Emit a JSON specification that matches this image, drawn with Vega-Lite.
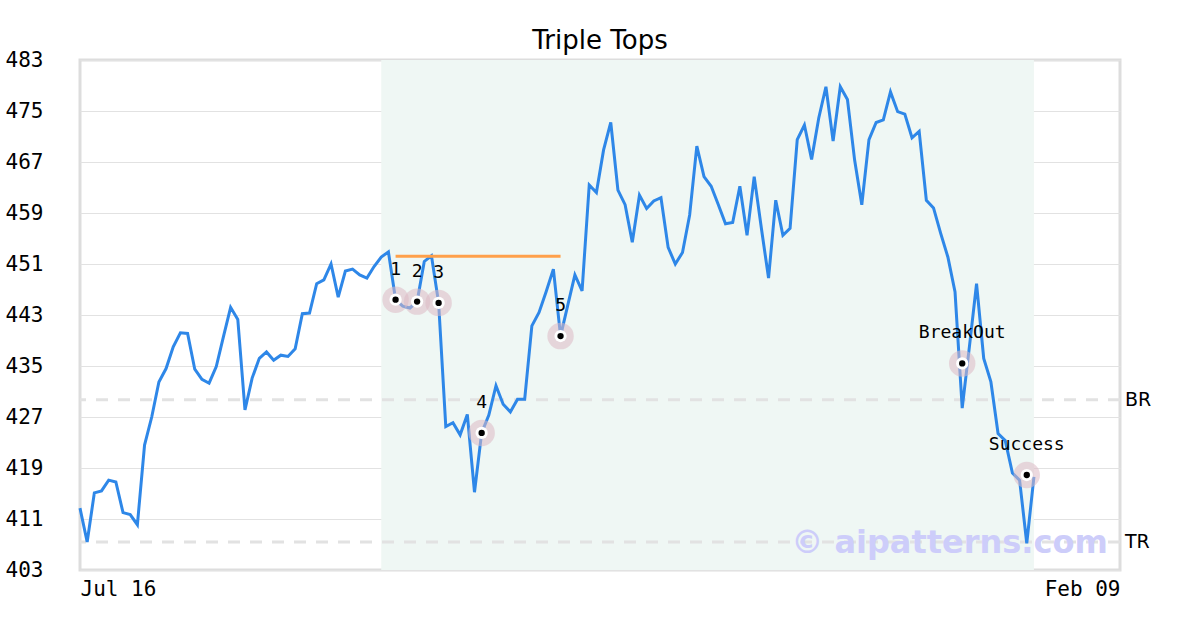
{
  "$schema": "https://vega.github.io/schema/vega-lite/v6.json",
  "width": 1040,
  "height": 510,
  "autosize": "none",
  "padding": {"left": 80, "top": 60, "right": 80, "bottom": 60},
  "background": "white",
  "title": {"text": "Triple Tops", "font": "DejaVu Sans", "fontSize": 26, "fontWeight": "normal", "color": "black", "frame": "group", "anchor": "middle", "baseline": "alphabetic", "offset": 12, "dy": 38},
  "config": {
    "view": {"stroke": "#dddddd", "strokeWidth": 3},
    "axis": {"domain": false, "ticks": false, "tickSize": 0, "labelFont": "DejaVu Sans Mono", "labelFontSize": 21, "labelColor": "black", "title": null},
    "axisY": {"grid": true, "gridColor": "#e2e2e2", "gridWidth": 1, "labelPadding": 37, "labelBaseline": "middle"},
    "axisX": {"grid": false, "labelPadding": 8, "labelFlush": true}
  },
  "datasets": {
    "price": [
      {"i":0,"v":412.7},{"i":1,"v":407.4},{"i":2,"v":415.1},{"i":3,"v":415.4},{"i":4,"v":417.1},{"i":5,"v":416.8},{"i":6,"v":412.0},{"i":7,"v":411.7},{"i":8,"v":410.1},{"i":9,"v":422.6},
      {"i":10,"v":427.0},{"i":11,"v":432.5},{"i":12,"v":434.6},{"i":13,"v":438.0},{"i":14,"v":440.2},{"i":15,"v":440.1},{"i":16,"v":434.5},{"i":17,"v":432.9},{"i":18,"v":432.3},{"i":19,"v":434.9},
      {"i":20,"v":439.6},{"i":21,"v":444.2},{"i":22,"v":442.3},{"i":23,"v":428.1},{"i":24,"v":433.1},{"i":25,"v":436.2},{"i":26,"v":437.2},{"i":27,"v":435.9},{"i":28,"v":436.7},{"i":29,"v":436.5},
      {"i":30,"v":437.7},{"i":31,"v":443.2},{"i":32,"v":443.3},{"i":33,"v":447.9},{"i":34,"v":448.5},{"i":35,"v":451.0},{"i":36,"v":445.8},{"i":37,"v":449.9},{"i":38,"v":450.2},{"i":39,"v":449.3},
      {"i":40,"v":448.8},{"i":41,"v":450.6},{"i":42,"v":452.1},{"i":43,"v":452.9},{"i":44,"v":445.4},{"i":45,"v":444.4},{"i":46,"v":444.1},{"i":47,"v":445.1},{"i":48,"v":451.4},{"i":49,"v":452.3},
      {"i":50,"v":444.9},{"i":51,"v":425.5},{"i":52,"v":426.1},{"i":53,"v":424.2},{"i":54,"v":427.4},{"i":55,"v":415.2},{"i":56,"v":424.5},{"i":57,"v":427.3},{"i":58,"v":431.9},{"i":59,"v":429.0},
      {"i":60,"v":427.8},{"i":61,"v":429.8},{"i":62,"v":429.8},{"i":63,"v":441.3},{"i":64,"v":443.4},{"i":65,"v":446.7},{"i":66,"v":450.2},{"i":67,"v":439.7},{"i":68,"v":444.5},{"i":69,"v":449.3},
      {"i":70,"v":446.8},{"i":71,"v":463.4},{"i":72,"v":462.2},{"i":73,"v":468.9},{"i":74,"v":473.2},{"i":75,"v":462.6},{"i":76,"v":460.3},{"i":77,"v":454.4},{"i":78,"v":461.8},{"i":79,"v":459.7},
      {"i":80,"v":460.9},{"i":81,"v":461.4},{"i":82,"v":453.6},{"i":83,"v":451.0},{"i":84,"v":452.8},{"i":85,"v":458.7},{"i":86,"v":469.5},{"i":87,"v":464.7},{"i":88,"v":463.2},{"i":89,"v":460.3},
      {"i":90,"v":457.3},{"i":91,"v":457.5},{"i":92,"v":463.2},{"i":93,"v":455.5},{"i":94,"v":464.7},{"i":95,"v":456.6},{"i":96,"v":448.8},{"i":97,"v":461.0},{"i":98,"v":455.5},{"i":99,"v":456.6},
      {"i":100,"v":470.5},{"i":101,"v":472.8},{"i":102,"v":467.4},{"i":103,"v":473.9},{"i":104,"v":478.8},{"i":105,"v":470.3},{"i":106,"v":478.8},{"i":107,"v":476.8},{"i":108,"v":467.3},{"i":109,"v":460.3},
      {"i":110,"v":470.5},{"i":111,"v":473.2},{"i":112,"v":473.6},{"i":113,"v":478.0},{"i":114,"v":474.9},{"i":115,"v":474.5},{"i":116,"v":470.8},{"i":117,"v":471.8},{"i":118,"v":461.0},{"i":119,"v":459.8},
      {"i":120,"v":455.8},{"i":121,"v":452.1},{"i":122,"v":446.6},{"i":123,"v":428.4},{"i":124,"v":438.0},{"i":125,"v":447.9},{"i":126,"v":436.2},{"i":127,"v":432.5},{"i":128,"v":424.4},{"i":129,"v":423.3},
      {"i":130,"v":418.2},{"i":131,"v":417.1},{"i":132,"v":407.2},{"i":133,"v":417.6}
    ],
    "points": [
      {"i":44,"v":445.4,"label":"1"},
      {"i":47,"v":445.1,"label":"2"},
      {"i":50,"v":444.9,"label":"3"},
      {"i":56,"v":424.5,"label":"4"},
      {"i":67,"v":439.7,"label":"5"},
      {"i":123,"v":435.4,"label":"BreakOut"},
      {"i":132,"v":417.9,"label":"Success"}
    ],
    "zone": [{"i":42,"i2":133}],
    "neck": [{"i":44,"i2":67,"v":452.2}],
    "levels": [{"name":"BR","v":429.7},{"name":"TR","v":407.4}],
    "mark": [{"text":"© aipatterns.com"}]
  },
  "layer": [
    {
      "data": {"name": "zone"},
      "mark": {"type": "rect", "color": "#eff7f4"},
      "encoding": {
        "x": {"field": "i", "type": "quantitative", "title": null, "scale": {"domain": [0, 145], "nice": false, "zero": false}, "axis": {"values": [0, 145], "labelExpr": "datum.value == 0 ? 'Jul 16' : 'Feb 09'"}},
        "x2": {"field": "i2"}
      }
    },
    {
      "data": {"name": "levels"},
      "mark": {"type": "rule", "color": "#e2e2e2", "strokeWidth": 3, "strokeDash": [12, 10]},
      "encoding": {
        "y": {"field": "v", "type": "quantitative", "title": null, "scale": {"domain": [403, 483], "nice": false, "zero": false}, "axis": {"values": [403, 411, 419, 427, 435, 443, 451, 459, 467, 475, 483]}}
      }
    },
    {
      "data": {"name": "mark"},
      "mark": {"type": "text", "font": "DejaVu Sans", "fontWeight": "bold", "fontSize": 32, "color": "#cdcdfa", "align": "right", "baseline": "middle"},
      "encoding": {
        "x": {"datum": 143.3, "type": "quantitative"},
        "y": {"datum": 407.3, "type": "quantitative"},
        "text": {"field": "text"}
      }
    },
    {
      "data": {"name": "price"},
      "mark": {"type": "line", "color": "#2e87e8", "strokeWidth": 3},
      "encoding": {
        "x": {"field": "i", "type": "quantitative", "title": null},
        "y": {"field": "v", "type": "quantitative", "title": null}
      }
    },
    {
      "data": {"name": "neck"},
      "mark": {"type": "rule", "color": "#ffa04a", "strokeWidth": 3},
      "encoding": {
        "x": {"field": "i", "type": "quantitative", "title": null},
        "x2": {"field": "i2"},
        "y": {"field": "v", "type": "quantitative", "title": null}
      }
    },
    {
      "data": {"name": "points"},
      "mark": {"type": "circle", "color": "#dcbac4", "opacity": 0.55, "size": 700},
      "encoding": {
        "x": {"field": "i", "type": "quantitative", "title": null},
        "y": {"field": "v", "type": "quantitative", "title": null}
      }
    },
    {
      "data": {"name": "points"},
      "mark": {"type": "circle", "color": "white", "opacity": 1, "size": 150},
      "encoding": {
        "x": {"field": "i", "type": "quantitative", "title": null},
        "y": {"field": "v", "type": "quantitative", "title": null}
      }
    },
    {
      "data": {"name": "points"},
      "mark": {"type": "circle", "color": "black", "opacity": 1, "size": 40},
      "encoding": {
        "x": {"field": "i", "type": "quantitative", "title": null},
        "y": {"field": "v", "type": "quantitative", "title": null}
      }
    },
    {
      "data": {"name": "points"},
      "mark": {"type": "text", "font": "DejaVu Sans Mono", "fontSize": 18, "color": "black", "align": "center", "baseline": "middle", "dy": -30},
      "encoding": {
        "x": {"field": "i", "type": "quantitative", "title": null},
        "y": {"field": "v", "type": "quantitative", "title": null},
        "text": {"field": "label"}
      }
    },
    {
      "data": {"name": "levels"},
      "mark": {"type": "text", "font": "DejaVu Sans", "fontSize": 19, "color": "black", "align": "left", "baseline": "middle", "dx": 5},
      "encoding": {
        "x": {"datum": 145, "type": "quantitative"},
        "y": {"field": "v", "type": "quantitative", "title": null},
        "text": {"field": "name"}
      }
    }
  ]
}
